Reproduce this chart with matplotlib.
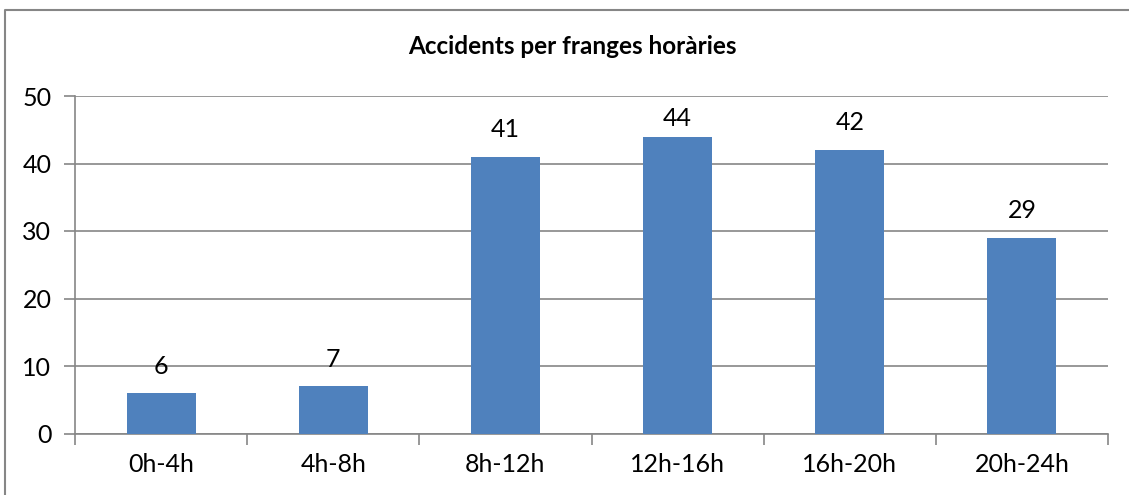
import matplotlib.pyplot as plt
from matplotlib.lines import Line2D
import numpy as np

categories = ['0h-4h', '4h-8h', '8h-12h', '12h-16h', '16h-20h', '20h-24h']
accidents = [6, 7, 41, 44, 42, 29]
title = 'Accidents per franges horàries'

plt.rcParams['font.family'] = ['Lato', 'DejaVu Sans']
grey = '#868686'
fs = 18

fig = plt.figure(figsize=(11.29, 4.95), dpi=100)
ax = fig.add_axes([75 / 1129, 1 - 433.5 / 495, (1108 - 75) / 1129, (433.5 - 96) / 495])

x = np.arange(len(categories))
ax.bar(x, accidents, width=0.4, color='#4F81BD', zorder=3)

# data labels above bars (Excel placed the tall ones at a common height)
for xi, v in zip(x, accidents):
    ax.text(xi, min(v + 4.0, 46.7), str(v), ha='center', va='center',
            fontsize=fs, color='black', zorder=4)

ax.set_xlim(-0.5, len(categories) - 0.5)
ax.set_ylim(0, 50)
ax.set_yticks(range(0, 51, 10))
ax.set_xticks(x)
ax.set_xticklabels(categories)
ax.set_xticks(np.arange(-0.5, len(categories), 1), minor=True)

ax.yaxis.grid(True, color=grey, linewidth=1.2, zorder=0)
ax.set_axisbelow(True)
for s in ['top', 'right']:
    ax.spines[s].set_visible(False)
for s in ['left', 'bottom']:
    ax.spines[s].set_color(grey)
    ax.spines[s].set_linewidth(1.2)

ax.tick_params(axis='y', length=8, width=1.2, color=grey, pad=9, labelsize=fs)
ax.tick_params(axis='x', which='major', length=0, pad=14, labelsize=fs)
ax.tick_params(axis='x', which='minor', length=8, width=1.2, color=grey)

fig.text(572 / 1129, 1 - 47 / 495, title, ha='center', va='center',
         fontsize=17.5, fontweight='bold')

# chart area border (only top/left visible in the crop)
bx, by = 5 / 1129, 1 - 9.5 / 495
fig.lines.append(Line2D([bx, bx, 1.0], [0.0, by, by], transform=fig.transFigure,
                        color=grey, linewidth=1.5))

fig.savefig('out.png', dpi=100)
